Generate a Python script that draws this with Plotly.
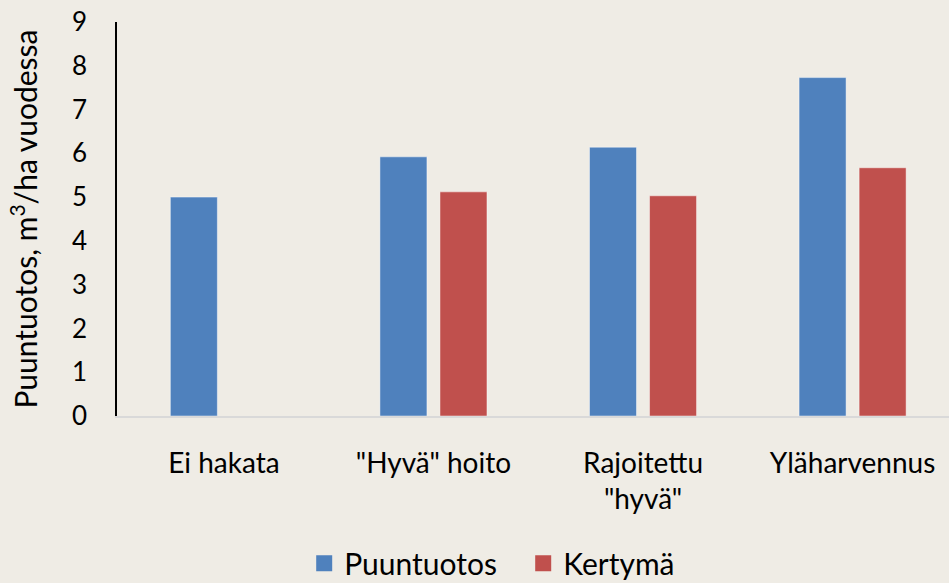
import plotly.graph_objects as go

categories = ["Ei hakata", "\"Hyvä\" hoito", "Rajoitettu<br>\"hyvä\"", "Yläharvennus"]
puuntuotos = [5.0, 5.92, 6.14, 7.73]
kertyma = [None, 5.12, 5.03, 5.67]
y_ticks = [0, 1, 2, 3, 4, 5, 6, 7, 8, 9]

BG = "#EFECE5"
FONT = "Lato"
BLUE = "#4F81BD"
RED = "#C0504D"

fig = go.Figure()
fig.add_trace(go.Bar(name="Puuntuotos", x=categories, y=puuntuotos, showlegend=False,
                     marker=dict(color=BLUE, line=dict(color="rgba(255,255,255,0.45)", width=1))))
fig.add_trace(go.Bar(name="Kertymä", x=categories, y=kertyma, showlegend=False,
                     marker=dict(color=RED, line=dict(color="rgba(255,255,255,0.45)", width=1))))
# legend entries with larger square swatches
for nm, col in [("Puuntuotos", BLUE), ("Kertymä", RED)]:
    fig.add_trace(go.Scatter(name=nm, x=[None], y=[None], mode="markers",
                             marker=dict(symbol="square", size=16, color=col)))

fig.update_layout(
    width=949, height=583,
    paper_bgcolor=BG, plot_bgcolor=BG,
    margin=dict(l=117, r=0, t=22, b=167, autoexpand=False),
    barmode="group", bargap=0.427, bargroupgap=0.217,
    font=dict(family=FONT, size=26, color="#000000"),
    showlegend=True,
    legend=dict(orientation="h", x=0.225, xanchor="left", xref="paper",
                yref="container", y=0.034, yanchor="middle",
                entrywidth=174, entrywidthmode="pixels",
                font=dict(size=30), tracegroupgap=0, bgcolor="rgba(0,0,0,0)"),
    xaxis=dict(range=[-0.51, 3.46], showline=True, linecolor="#D9D9D9", linewidth=2,
               showgrid=False, ticks="", tickfont=dict(size=28), ticklabelstandoff=21,
               zeroline=False, automargin=False),
    yaxis=dict(range=[0, 9], tickvals=y_ticks, showline=True, linecolor="#000000", linewidth=1.5,
               showgrid=False, zeroline=False, ticks="", tickfont=dict(size=26),
               ticklabelstandoff=23, automargin=False,
               title=dict(text="Puuntuotos, m<sup>3</sup>/ha vuodessa", font=dict(size=30), standoff=25)),
)

fig.write_html("out.html", config={"displayModeBar": False},
               post_script="document.body.style.margin='0';document.body.style.padding='0';")
